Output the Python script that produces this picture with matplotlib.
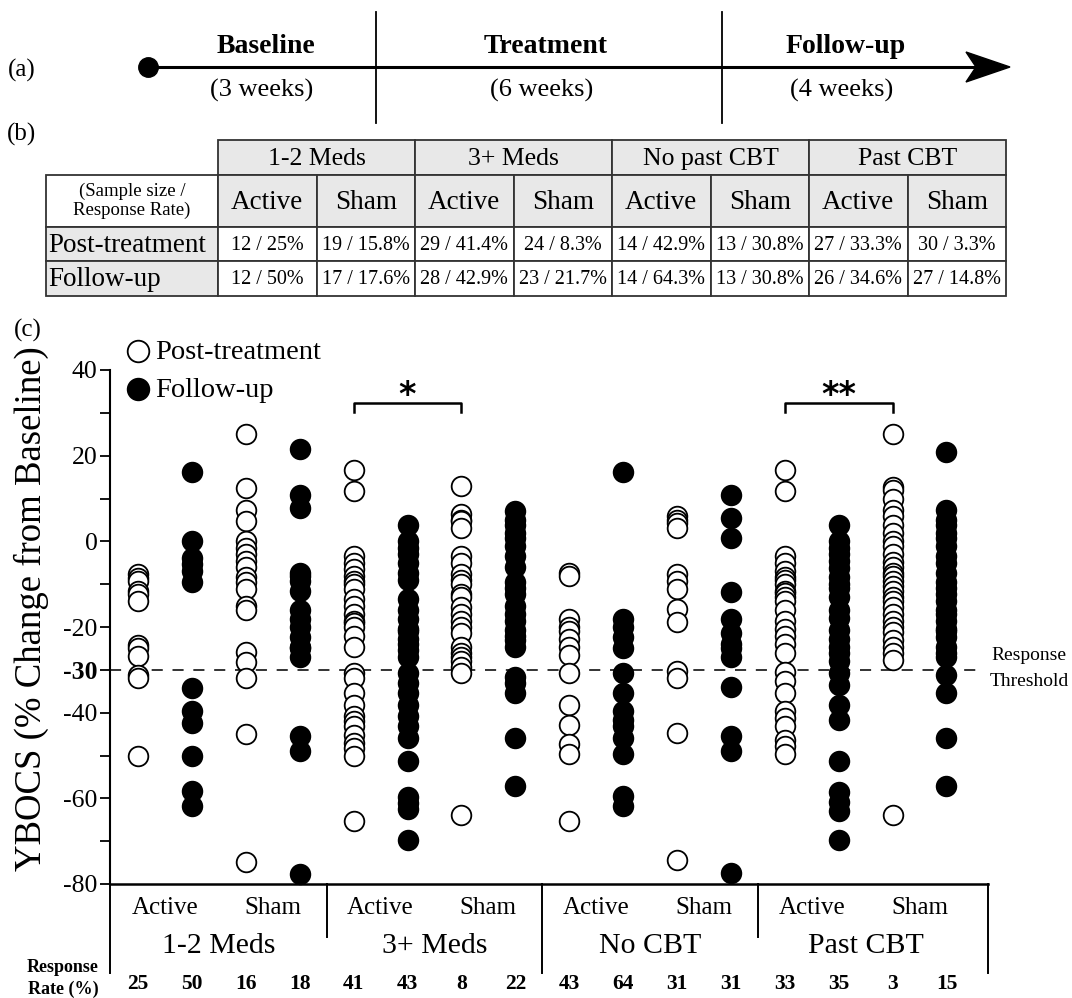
import matplotlib
matplotlib.use('Agg')
import matplotlib.pyplot as plt
from matplotlib.patches import Rectangle, Polygon
from matplotlib.transforms import blended_transform_factory

plt.rcParams['font.family'] = ['Liberation Serif', 'DejaVu Serif']
plt.rcParams['lines.scale_dashes'] = False

# ---------------- data ----------------
groups = ['1-2 Meds', '3+ Meds', 'No CBT', 'Past CBT']
table_groups = ['1-2 Meds', '3+ Meds', 'No past CBT', 'Past CBT']
arms = ['Active', 'Sham']
row_labels = ['Post-treatment', 'Follow-up']
post_table = ['12 / 25%', '19 / 15.8%', '29 / 41.4%', '24 / 8.3%',
              '14 / 42.9%', '13 / 30.8%', '27 / 33.3%', '30 / 3.3%']
fu_table = ['12 / 50%', '17 / 17.6%', '28 / 42.9%', '23 / 21.7%',
            '14 / 64.3%', '13 / 30.8%', '26 / 34.6%', '27 / 14.8%']
response_rates = [25, 50, 16, 18, 41, 43, 8, 22, 43, 64, 31, 31, 33, 35, 3, 15]
phases = ['Baseline', 'Treatment', 'Follow-up']
durations = ['(3 weeks)', '(6 weeks)', '(4 weeks)']
threshold = -30

meds12_active_post = [-7.6, -8.5, -9.2, -11.7, -12.3, -14.0, -24.2, -25.0, -26.8, -31.2, -31.8, -50.0]
meds12_active_fu = [16.1, 0.0, -3.8, -5.2, -6.9, -9.6, -34.3, -39.7, -42.4, -50.0, -58.4, -61.9]
meds12_sham_post = [25.0, 12.4, 7.4, 4.7, 0.0, -1.5, -2.9, -4.6, -6.0, -8.4, -9.6, -11.1, -15.0,
                    -16.1, -25.8, -28.1, -32.0, -44.9, -74.8]
meds12_sham_fu = [21.5, 10.9, 7.8, -7.3, -8.0, -9.2, -11.5, -16.0, -18.1, -20.0, -22.3, -24.6,
                  -25.0, -27.0, -45.5, -49.0, -77.7]
meds3_active_post = [16.7, 11.8, -3.4, -5.0, -6.5, -8.0, -9.2, -10.0, -11.1, -13.4, -15.0, -16.9,
                     -18.5, -19.0, -20.0, -22.0, -24.6, -30.8, -32.0, -35.4, -38.1, -40.8, -42.0,
                     -43.2, -45.1, -47.0, -48.2, -50.1, -65.2]
meds3_active_fu = [3.9, 0.0, -1.5, -3.0, -5.0, -7.3, -9.0, -13.4, -16.0, -18.1, -20.4, -21.0, -22.7,
                   -24.0, -25.4, -27.0, -30.8, -33.0, -35.4, -38.1, -40.8, -43.0, -45.9, -51.3,
                   -59.8, -61.0, -62.5, -69.8]
meds3_sham_post = [13.0, 6.3, 5.0, 4.7, 3.2, -3.4, -5.0, -7.6, -9.0, -10.0, -12.3, -13.0, -15.4,
                   -17.0, -18.5, -20.0, -21.5, -24.6, -26.0, -27.0, -28.0, -29.3, -30.8, -64.0]
meds3_sham_fu = [7.0, 5.0, 3.9, 2.0, 0.8, -1.0, -3.4, -6.0, -9.6, -11.0, -12.3, -15.0, -17.0, -18.5,
                 -20.8, -22.0, -23.0, -24.6, -31.6, -33.0, -35.4, -45.9, -57.1]
nocbt_active_post = [-7.3, -8.0, -18.1, -20.0, -21.0, -22.7, -24.6, -26.6, -30.8, -38.1, -42.8,
                     -47.4, -49.7, -65.2]
nocbt_active_fu = [16.1, -18.1, -20.0, -22.3, -25.0, -30.8, -35.4, -39.7, -41.6, -43.0, -45.9,
                   -49.7, -59.4, -61.7]
nocbt_sham_post = [5.9, 5.0, 4.3, 3.2, -7.6, -9.2, -11.1, -15.8, -18.8, -30.3, -32.0, -44.7, -74.4]
nocbt_sham_fu = [10.9, 5.5, 0.8, -11.9, -18.1, -21.5, -23.9, -25.0, -27.0, -33.9, -45.5, -49.0, -77.5]
pastcbt_active_post = [16.7, 11.7, -3.4, -5.0, -6.9, -8.4, -9.0, -10.0, -11.5, -12.0, -13.0, -14.0,
                       -16.1, -18.5, -20.4, -22.0, -23.9, -26.0, -30.4, -32.7, -35.4, -39.7, -41.2,
                       -43.2, -46.3, -47.8, -49.7]
pastcbt_active_fu = [3.9, 0.0, -1.5, -3.0, -4.5, -6.2, -8.4, -10.0, -11.0, -13.0, -16.0, -18.0,
                     -20.8, -22.7, -24.6, -26.0, -28.0, -30.8, -33.5, -38.1, -41.6, -51.3, -58.6,
                     -60.9, -62.9, -69.8]
pastcbt_sham_post = [25.0, 12.6, 12.1, 10.0, 7.4, 5.9, 3.9, 2.0, 0.0, -1.0, -3.0, -4.9, -6.0, -7.3,
                     -8.0, -9.2, -10.5, -11.5, -13.0, -14.0, -15.4, -17.0, -18.5, -20.0, -21.2,
                     -23.0, -24.6, -26.0, -27.7, -64.0]
pastcbt_sham_fu = [20.8, 7.4, 5.0, 3.9, 2.0, 0.8, -1.0, -3.4, -5.0, -7.3, -9.6, -11.0, -12.3, -14.0,
                   -16.0, -17.0, -18.5, -20.4, -21.0, -22.3, -24.6, -26.0, -27.0, -31.2, -35.4,
                   -45.9, -57.1]

columns = [meds12_active_post, meds12_active_fu, meds12_sham_post, meds12_sham_fu,
           meds3_active_post, meds3_active_fu, meds3_sham_post, meds3_sham_fu,
           nocbt_active_post, nocbt_active_fu, nocbt_sham_post, nocbt_sham_fu,
           pastcbt_active_post, pastcbt_active_fu, pastcbt_sham_post, pastcbt_sham_fu]

# ---------------- figure ----------------
W, H = 1072, 998
fig = plt.figure(figsize=(W / 100, H / 100), dpi=100)

ov = fig.add_axes([0, 0, 1, 1])
ov.set_xlim(0, W)
ov.set_ylim(H, 0)
ov.axis('off')

# ----- panel (a): timeline -----
ov.text(22, 70, '(a)', fontsize=18, ha='center', va='center')
ov.plot([148, 990], [67, 67], color='black', lw=2.2, solid_capstyle='butt')
ov.plot([148], [67], 'o', color='black', ms=14)
ov.add_patch(Polygon([(1010, 67), (966, 52), (976, 67), (966, 82)], closed=True,
                     facecolor='black', edgecolor='black'))
for xv in (376, 722):
    ov.plot([xv, xv], [12, 123], color='black', lw=1.3)
for xc, p, d in zip((266, 546, 846), phases, durations):
    ov.text(xc, 46, p, fontsize=20, fontweight='bold', ha='center', va='center')
    ov.text(xc - 4, 90, d, fontsize=19, ha='center', va='center')

# ----- panel (b): table -----
ov.text(22, 134, '(b)', fontsize=18, ha='center', va='center')
gray = '#e8e8e8'
ec = '#333333'
col_edges = [218 + k * 98.5 for k in range(9)]
r0, r1, r2, r3, r4 = 140, 175, 227, 261, 296
first_l = 46
for g in range(4):
    x0, x1 = col_edges[2 * g], col_edges[2 * g + 2]
    ov.add_patch(Rectangle((x0, r0), x1 - x0, r1 - r0, facecolor=gray, edgecolor=ec, lw=1.3))
    ov.text((x0 + x1) / 2, (r0 + r1) / 2 + 1, table_groups[g], fontsize=18.5, ha='center', va='center')
ov.add_patch(Rectangle((first_l, r1), 218 - first_l, r2 - r1, facecolor='white', edgecolor=ec, lw=1.3))
ov.text((first_l + 218) / 2, (r1 + r2) / 2, '(Sample size /\nResponse Rate)', fontsize=13.5,
        ha='center', va='center', linespacing=1.1)
for c in range(8):
    x0, x1 = col_edges[c], col_edges[c + 1]
    ov.add_patch(Rectangle((x0, r1), x1 - x0, r2 - r1, facecolor=gray, edgecolor=ec, lw=1.3))
    ov.text((x0 + x1) / 2, (r1 + r2) / 2 + 1, arms[c % 2], fontsize=19.5, ha='center', va='center')
for (ya, yb), lab, vals in zip(((r2, r3), (r3, r4)), row_labels, (post_table, fu_table)):
    ov.add_patch(Rectangle((first_l, ya), 218 - first_l, yb - ya, facecolor=gray, edgecolor=ec, lw=1.3))
    ov.text(first_l + 2, (ya + yb) / 2 + 1, lab, fontsize=19.5, ha='left', va='center')
    for c in range(8):
        x0, x1 = col_edges[c], col_edges[c + 1]
        ov.add_patch(Rectangle((x0, ya), x1 - x0, yb - ya, facecolor='white', edgecolor=ec, lw=1.3))
        ov.text((x0 + x1) / 2, (ya + yb) / 2 + 1, vals[c], fontsize=14.5, ha='center', va='center')

# ----- panel (c): scatter -----
ov.text(28, 330, '(c)', fontsize=18, ha='center', va='center')
ax = fig.add_axes([110 / W, (H - 884) / H, (988 - 110) / W, (884 - 370) / H])
ax.patch.set_alpha(0)
ax.set_xlim(-0.52, 15.77)
ax.set_ylim(-80, 40)

ax.axhline(threshold, xmin=0, xmax=0.992, color='#333333', lw=1.4, dashes=(8, 7), zorder=1)

h_post = h_fu = None
for i, vals in enumerate(columns):
    post = (i % 2 == 0)
    sc = ax.scatter([i] * len(vals), vals, s=200,
                    facecolor='white' if post else 'black',
                    edgecolor='black', linewidths=1.3, zorder=3, clip_on=False)
    if post and h_post is None:
        h_post = sc
    if (not post) and h_fu is None:
        h_fu = sc

leg = ax.legend([h_post, h_fu], ['Post-treatment', 'Follow-up'], loc='upper left',
                bbox_to_anchor=(0.0, 1.083), frameon=False, fontsize=20.5, handletextpad=0.0,
                labelspacing=0.42, borderaxespad=0, markerscale=1.1, handlelength=1.2)

for s in ('top', 'right'):
    ax.spines[s].set_visible(False)
ax.spines['left'].set_linewidth(1.5)
ax.spines['bottom'].set_linewidth(1.8)
ax.set_xticks([])
ax.set_yticks(range(-80, 41, 10))
ylabels = {40: '40', 20: '20', 0: '0', -20: '-20', -30: '-30', -40: '-40', -60: '-60', -80: '-80'}
ax.set_yticklabels([ylabels.get(v, '') for v in range(-80, 41, 10)])
ax.tick_params(axis='y', direction='out', length=7, width=1.3, labelsize=18.5, pad=2)
for t, v in zip(ax.get_yticklabels(), range(-80, 41, 10)):
    if v == -30:
        t.set_fontweight('bold')
ax.set_ylabel('YBOCS (% Change from Baseline)', fontsize=26.5)
ax.yaxis.set_label_coords(-0.07, 0.535)

# significance brackets
for (xa, xb), star in (((4, 6), '*'), ((12, 14), '**')):
    ax.plot([xa, xa, xb, xb], [30.2, 32.3, 32.3, 30.2], color='black', lw=1.8, clip_on=False)
    ax.text((xa + xb) / 2, 34.0, star, fontsize=24, fontweight='bold', ha='center', va='center',
            family='DejaVu Sans')

ov.text(1029, 655, 'Response', fontsize=14, ha='center', va='center')
ov.text(1029, 681, 'Threshold', fontsize=14, ha='center', va='center')

# below-axis category boxes
bt = blended_transform_factory(ax.transData, ov.transData)
for xv, yb in ((-0.52, 973), (3.5, 937), (7.5, 973), (11.5, 937), (15.77, 973)):
    ax.plot([xv, xv], [884, yb], color='black', lw=1.4, transform=bt, clip_on=False)
for g in range(4):
    ax.text(4 * g + 0.5, 908, arms[0], fontsize=18, ha='center', va='center', transform=bt)
    ax.text(4 * g + 2.5, 908, arms[1], fontsize=18, ha='center', va='center', transform=bt)
    ax.text(4 * g + 1.5, 946, groups[g], fontsize=21.5, ha='center', va='center', transform=bt)
for i, r in enumerate(response_rates):
    ax.text(i, 984, str(r), fontsize=15.5, fontweight='bold', ha='center', va='center', transform=bt)
ov.text(63, 967, 'Response', fontsize=13, fontweight='bold', ha='center', va='center')
ov.text(63, 989, 'Rate (%)', fontsize=13, fontweight='bold', ha='center', va='center')

fig.savefig('out.png', dpi=100)
